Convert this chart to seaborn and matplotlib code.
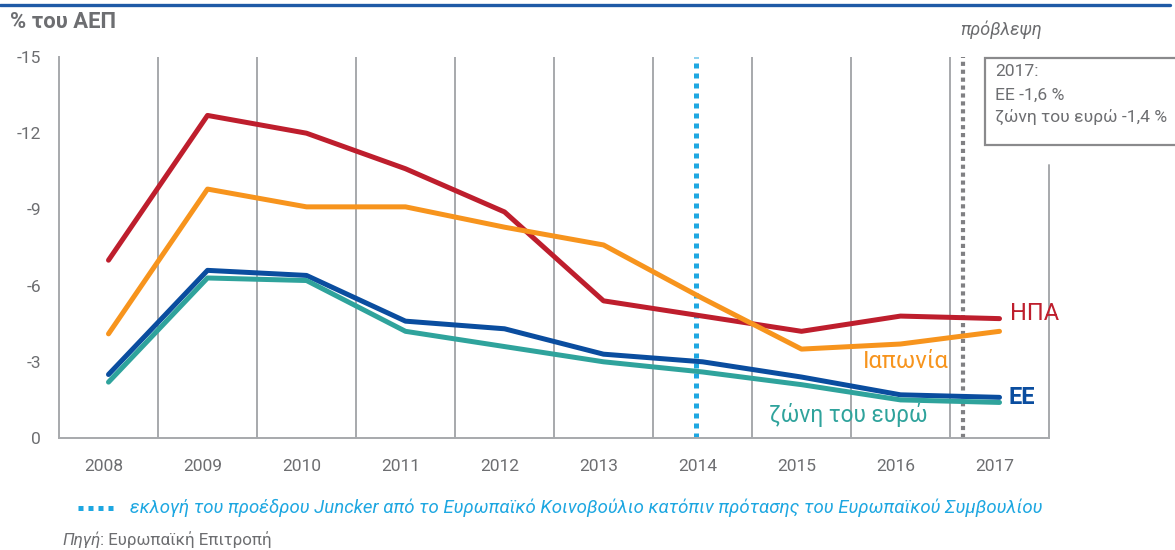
import numpy as np
import pandas as pd
import matplotlib
matplotlib.use("Agg")
import matplotlib.pyplot as plt
from matplotlib.lines import Line2D
from matplotlib.patches import Rectangle
from matplotlib.transforms import ScaledTranslation
import seaborn as sns

# General government balance, % of GDP
years = [2008, 2009, 2010, 2011, 2012, 2013, 2014, 2015, 2016, 2017]
usa = [-7.0, -12.7, -12.0, -10.6, -8.9, -5.4, -4.8, -4.2, -4.8, -4.7]
japan = [-4.1, -9.8, -9.1, -9.1, -8.3, -7.6, -5.5, -3.5, -3.7, -4.2]
eu = [-2.5, -6.6, -6.4, -4.6, -4.3, -3.3, -3.0, -2.4, -1.7, -1.6]
euro_area = [-2.2, -6.3, -6.2, -4.2, -3.6, -3.0, -2.6, -2.1, -1.5, -1.4]

series_names = ["ΗΠΑ", "Ιαπωνία", "ΕΕ", "ζώνη του ευρώ"]
series_colors = ["#be1e2d", "#f7941d", "#0a4d9f", "#2fa39c"]
yticks = [0, -3, -6, -9, -12, -15]
juncker_year = 2013.93
forecast_year = 2016.63

GREY = "#6d6e71"
GRID = "#a7a9ac"

sns.set_theme(style="white")
plt.rcParams["font.family"] = ["Roboto", "DejaVu Sans"]

df = pd.DataFrame({
    "year": years * 4,
    "value": usa + japan + eu + euro_area,
    "series": sum([[n] * len(years) for n in series_names], []),
})

fig = plt.figure(figsize=(11.75, 5.5), dpi=100)
ax = fig.add_axes([59 / 1175, 112 / 550, 990 / 1175, 381 / 550])

# Vertical separators between years
for b in np.arange(2008.5, 2017.0, 1.0):
    ax.axvline(b, color=GRID, lw=1.4, zorder=1)
ax.plot([2017.5, 2017.5], [0, -10.75], color=GRID, lw=1.4, zorder=1, clip_on=False)

# Event and forecast markers
ax.axvline(juncker_year, color="#1ea7e1", lw=3.6, dashes=(1, 1), zorder=2)
ax.axvline(forecast_year, color="#808083", lw=3.0, dashes=(1, 0.9), zorder=2)

sns.lineplot(data=df, x="year", y="value", hue="series", hue_order=series_names,
             palette=series_colors, linewidth=3.6, legend=False, ax=ax, zorder=3,
             solid_capstyle="round")

ax.set_xlim(2007.5, 2017.5)
ax.set_ylim(0, -15)
ax.set_xticks(years)
ax.set_xticklabels([str(y) for y in years])
ax.set_yticks(yticks)
ax.set_yticklabels([str(t) for t in yticks])
ax.set_xlabel("")
ax.set_ylabel("")

for side in ["top", "right"]:
    ax.spines[side].set_visible(False)
for side in ["left", "bottom"]:
    ax.spines[side].set_color(GRID)
    ax.spines[side].set_linewidth(1.4)

ax.tick_params(axis="y", direction="in", length=19.5, width=1.4, color=GRID,
               labelsize=12.5, labelcolor=GREY, pad=13)
ax.tick_params(axis="x", length=0, labelsize=12.5, labelcolor=GREY, pad=15)
shift = ScaledTranslation(-5 / 100, 0, fig.dpi_scale_trans)
for lab in ax.get_xticklabels():
    lab.set_transform(lab.get_transform() + shift)

# Series labels
ax.text(2017.11, -4.92, "ΗΠΑ", color=series_colors[0], fontsize=17, ha="left", va="center")
ax.text(2015.62, -3.03, "Ιαπωνία", color=series_colors[1], fontsize=17, ha="left", va="center")
ax.text(2017.09, -1.61, "ΕΕ", color=series_colors[2], fontsize=17, fontweight="bold",
        ha="left", va="center")
ax.text(2014.67, -0.9, "ζώνη του ευρώ", color=series_colors[3], fontsize=16.3,
        ha="left", va="center")

# Header rule and unit
fig.add_artist(Line2D([0, 1170 / 1175], [1 - 5 / 550] * 2, color="#1f5aa6", lw=2.4))
fig.text(10 / 1175, 1 - 22 / 550, "% του ΑΕΠ", color=GREY, fontsize=15.8,
         fontweight="semibold", ha="left", va="center")
fig.text(1001 / 1175, 1 - 30 / 550, "πρόβλεψη", color=GREY, fontsize=13,
         style="italic", ha="center", va="center")

# Forecast box
fig.add_artist(Rectangle((985 / 1175, 1 - 145 / 550), 0.2, 87 / 550,
                         transform=fig.transFigure, facecolor="white",
                         edgecolor="#8a8a8c", lw=1.6, zorder=5))
for ypx, txt in [(72, "2017:"), (95, "ΕΕ -1,6 %"), (117, "ζώνη του ευρώ -1,4 %")]:
    fig.text(995 / 1175, 1 - ypx / 550, txt, color=GREY, fontsize=12.6,
             ha="left", va="center", zorder=6)

# Footnotes
fig.add_artist(Line2D([78 / 1175, 118 / 1175], [1 - 508 / 550] * 2, color="#1ea7e1",
                      lw=3.6, dashes=(1, 1)))
fig.text(130 / 1175, 1 - 508 / 550,
         "εκλογή του προέδρου Juncker από το Ευρωπαϊκό Κοινοβούλιο κατόπιν πρότασης του Ευρωπαϊκού Συμβουλίου",
         color="#1ea7e1", fontsize=13.4, style="italic", ha="left", va="center")

t1 = fig.text(62 / 1175, 1 - 540 / 550, "Πηγή", color=GREY, fontsize=12.2,
              style="italic", ha="left", va="center")
fig.canvas.draw()
bb = t1.get_window_extent()
fig.text(bb.x1 / fig.bbox.width, 1 - 540 / 550, ": Ευρωπαϊκή Επιτροπή", color=GREY,
         fontsize=12.2, ha="left", va="center")

fig.savefig("out.png", dpi=100)
